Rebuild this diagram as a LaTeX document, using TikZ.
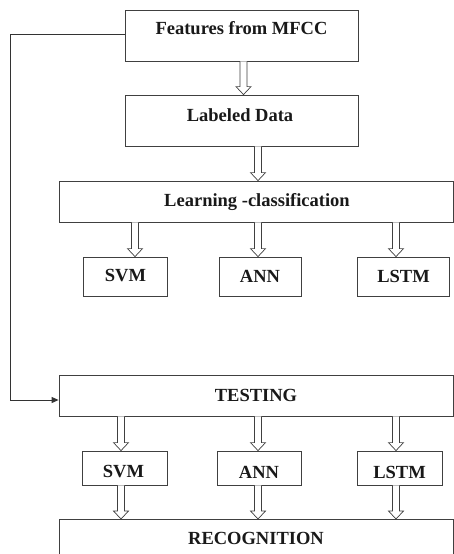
\documentclass[tikz,border=0pt]{standalone}
\usepackage{fontspec}
\setmainfont{Liberation Serif}
\usetikzlibrary{calc,arrows.meta}
\begin{document}
\begin{tikzpicture}[x=1pt,y=-1pt,
  box/.style={draw=black!75, line width=0.8pt, fill=white, inner sep=0pt},
  txt/.style={font=\bfseries\fontsize{18.5}{20}\selectfont, text=black!90, inner sep=0pt},
  hollow/.style={draw=black!75, line width=0.7pt, fill=white, to path={let \p1=(\tikztostart), \p2=(\tikztotarget) in
     (\x2-3.5pt,\y1) -- (\x2-3.5pt,\y2+8pt) -- (\x2-7.5pt,\y2+8pt) -- (\x2,\y2) -- (\x2+7.5pt,\y2+8pt) -- (\x2+3.5pt,\y2+8pt) -- (\x2+3.5pt,\y1)}},
  hollowS/.style={draw=black!75, line width=0.7pt, fill=white, to path={let \p1=(\tikztostart), \p2=(\tikztotarget) in
     (\x1-3.5pt,\y1) -- (\x1-3.5pt,\y2+8pt) -- (\x1-7.5pt,\y2+8pt) -- (\x1,\y2) -- (\x1+7.5pt,\y2+8pt) -- (\x1+3.5pt,\y2+8pt) -- (\x1+3.5pt,\y1)}},
  feed/.style={draw=black!80, line width=0.9pt, -{Triangle[length=7pt,width=6pt]}}]
\useasboundingbox (0,0) rectangle (454,554);
\clip (0,0) rectangle (454,554);
\fill[white] (0,0) rectangle (454,554);
% boxes
\node[box, minimum width=233pt, minimum height=51pt] (feat) at (241.5,35.5) {};
\node[box, minimum width=233pt, minimum height=51pt] (lab) at (241.5,120.5) {};
\node[box, minimum width=394pt, minimum height=41pt] (learn) at (256,201.5) {};
\node[box, minimum width=84pt, minimum height=39pt] (svm1) at (125,276.5) {};
\node[box, minimum width=82pt, minimum height=39pt] (ann1) at (260,276.5) {};
\node[box, minimum width=92pt, minimum height=39pt] (lstm1) at (403,276.5) {};
\node[box, minimum width=394pt, minimum height=41pt] (test) at (256,395.5) {};
\node[box, minimum width=85pt, minimum height=34pt] (svm2) at (124.5,468) {};
\node[box, minimum width=84pt, minimum height=34pt] (ann2) at (259,468) {};
\node[box, minimum width=85pt, minimum height=34pt] (lstm2) at (399.5,468) {};
\node[box, minimum width=394pt, minimum height=40pt, anchor=north] (rec) at (256,519) {};
% texts
\node[txt] (featT) at (241.5,28.5) {Features from MFCC};
\node[txt] (labT) at (240,115) {Labeled Data};
\node[txt] (learnT) at (257,202.4) {Learning -classification};
\node[txt] (svm1T) at (125.5,276) {SVM};
\node[txt] (ann1T) at (260,276) {ANN};
\node[txt] (lstm1T) at (403.5,276) {LSTM};
\node[txt] (testT) at (256,395) {TESTING};
\node[txt] (svm2T) at (123.5,472) {SVM};
\node[txt] (ann2T) at (259,472) {ANN};
\node[txt] (lstm2T) at (399.5,472) {LSTM};
\node[txt] (recT) at (256,538.5) {RECOGNITION};
% hollow arrows
\draw[hollow] (feat.south) to ([xshift=2pt]lab.north);
\draw[hollow] (lab.south) to ([xshift=2pt]learn.north);
\draw[hollow] (learn.south) to ([xshift=10pt]svm1.north);
\draw[hollow] (learn.south) to ([xshift=-2pt]ann1.north);
\draw[hollow] (learn.south) to ([xshift=-7pt]lstm1.north);
\draw[hollow] (test.south) to ([xshift=-3.5pt]svm2.north);
\draw[hollow] (test.south) to ([xshift=-1pt]ann2.north);
\draw[hollow] (test.south) to ([xshift=-3.5pt]lstm2.north);
\draw[hollowS] ([xshift=-3.5pt]svm2.south) to (rec.north);
\draw[hollowS] ([xshift=-1pt]ann2.south) to (rec.north);
\draw[hollowS] ([xshift=-3.5pt]lstm2.south) to (rec.north);
% feedback line
\coordinate (c1) at (10,34);
\coordinate (c2) at (10,400);
\draw[feed] (feat.west |- c1) -- (c1) -- (c2) -- (test.west |- c2);
\end{tikzpicture}
\end{document}
